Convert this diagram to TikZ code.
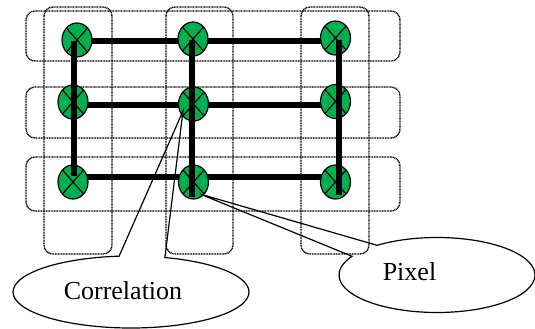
\documentclass[tikz,border=0pt]{standalone}
\usepackage{fontspec}
\setmainfont{Liberation Serif}
\usetikzlibrary{shapes.geometric,calc,backgrounds}
\definecolor{pixgreen}{HTML}{00B050}
\begin{document}
\begin{tikzpicture}[x=1pt,y=-1pt,
  win/.style={draw=black, line width=1.4pt, dash pattern=on 1pt off 0.6pt, rounded corners=9pt},
  pix/.style={ellipse, draw=black, line width=1.2pt, fill=pixgreen, minimum width=30pt, minimum height=34pt, inner sep=0pt,
    path picture={\draw[line width=1.2pt] (path picture bounding box.north west) -- (path picture bounding box.south east)
      (path picture bounding box.north east) -- (path picture bounding box.south west);}},
  bar/.style={draw=black, line width=5.4pt},
  callout/.style={draw=black, line width=1.2pt, line join=miter},
  lbl/.style={font=\fontsize{26}{30}\selectfont, inner sep=0pt, anchor=base}
]
\useasboundingbox (0,0) rectangle (535,329);

% pixels
\node[pix] (n11) at (77,40) {};
\node[pix] (n21) at (193,39) {};
\node[pix] (n31) at (335.5,38) {};
\node[pix] (n12) at (73,102) {};
\node[pix] (n22) at (193.5,104) {};
\node[pix] (n32) at (335.5,101.5) {};
\node[pix] (n13) at (73,182) {};
\node[pix] (n23) at (193.5,182) {};
\node[pix] (n33) at (335.5,182) {};

\begin{pgfonlayer}{background}
  % windows
  \draw[win] (26,11) rectangle (400,61);
  \draw[win] (26,87) rectangle (400,138);
  \draw[win] (26,157) rectangle (400,211);
  \draw[win] (44,7) rectangle (112,254);
  \draw[win] (166,7) rectangle (233,254);
  \draw[win] (301,7) rectangle (369,254);
  % horizontal links
  \draw[bar] ($(n11.center)+(0,1)$) -- ($(n31.center)+(0,3)$);
  \draw[bar] ($(n12.center)+(0,3)$) -- ($(n32.center)+(0,3.5)$);
  \draw[bar] ($(n13.center)+(0,-5)$) -- ($(n33.center)+(0,-5)$);
\end{pgfonlayer}

% vertical links
\draw[bar] ($(n11.center)+(-3,1)$) -- ($(n13.center)+(1,-6)$);
\draw[bar] ($(n21.center)+(-1,1)$) -- ($(n23.center)+(-1.5,15)$);
\draw[bar] ($(n31.center)+(3.5,2)$) -- ($(n33.center)+(3.5,13)$);

% callouts
\coordinate (capex) at (183,111);
\draw[callout] (131,292) ++(-73.3:118 and 36)
  arc[start angle=-73.3, end angle=264.2, x radius=118, y radius=36] -- (capex) -- cycle;
\node[lbl] (corrtext) at (123,299) {Correlation};

\coordinate (papex) at (200,194);
\draw[callout] (437,275) ++(-127.7:98 and 37.5)
  arc[start angle=-127.7, end angle=209.9, x radius=98, y radius=37.5] -- (papex) -- cycle;
\node[lbl] (pixtext) at (409.5,280) {Pixel};
\end{tikzpicture}
\end{document}
